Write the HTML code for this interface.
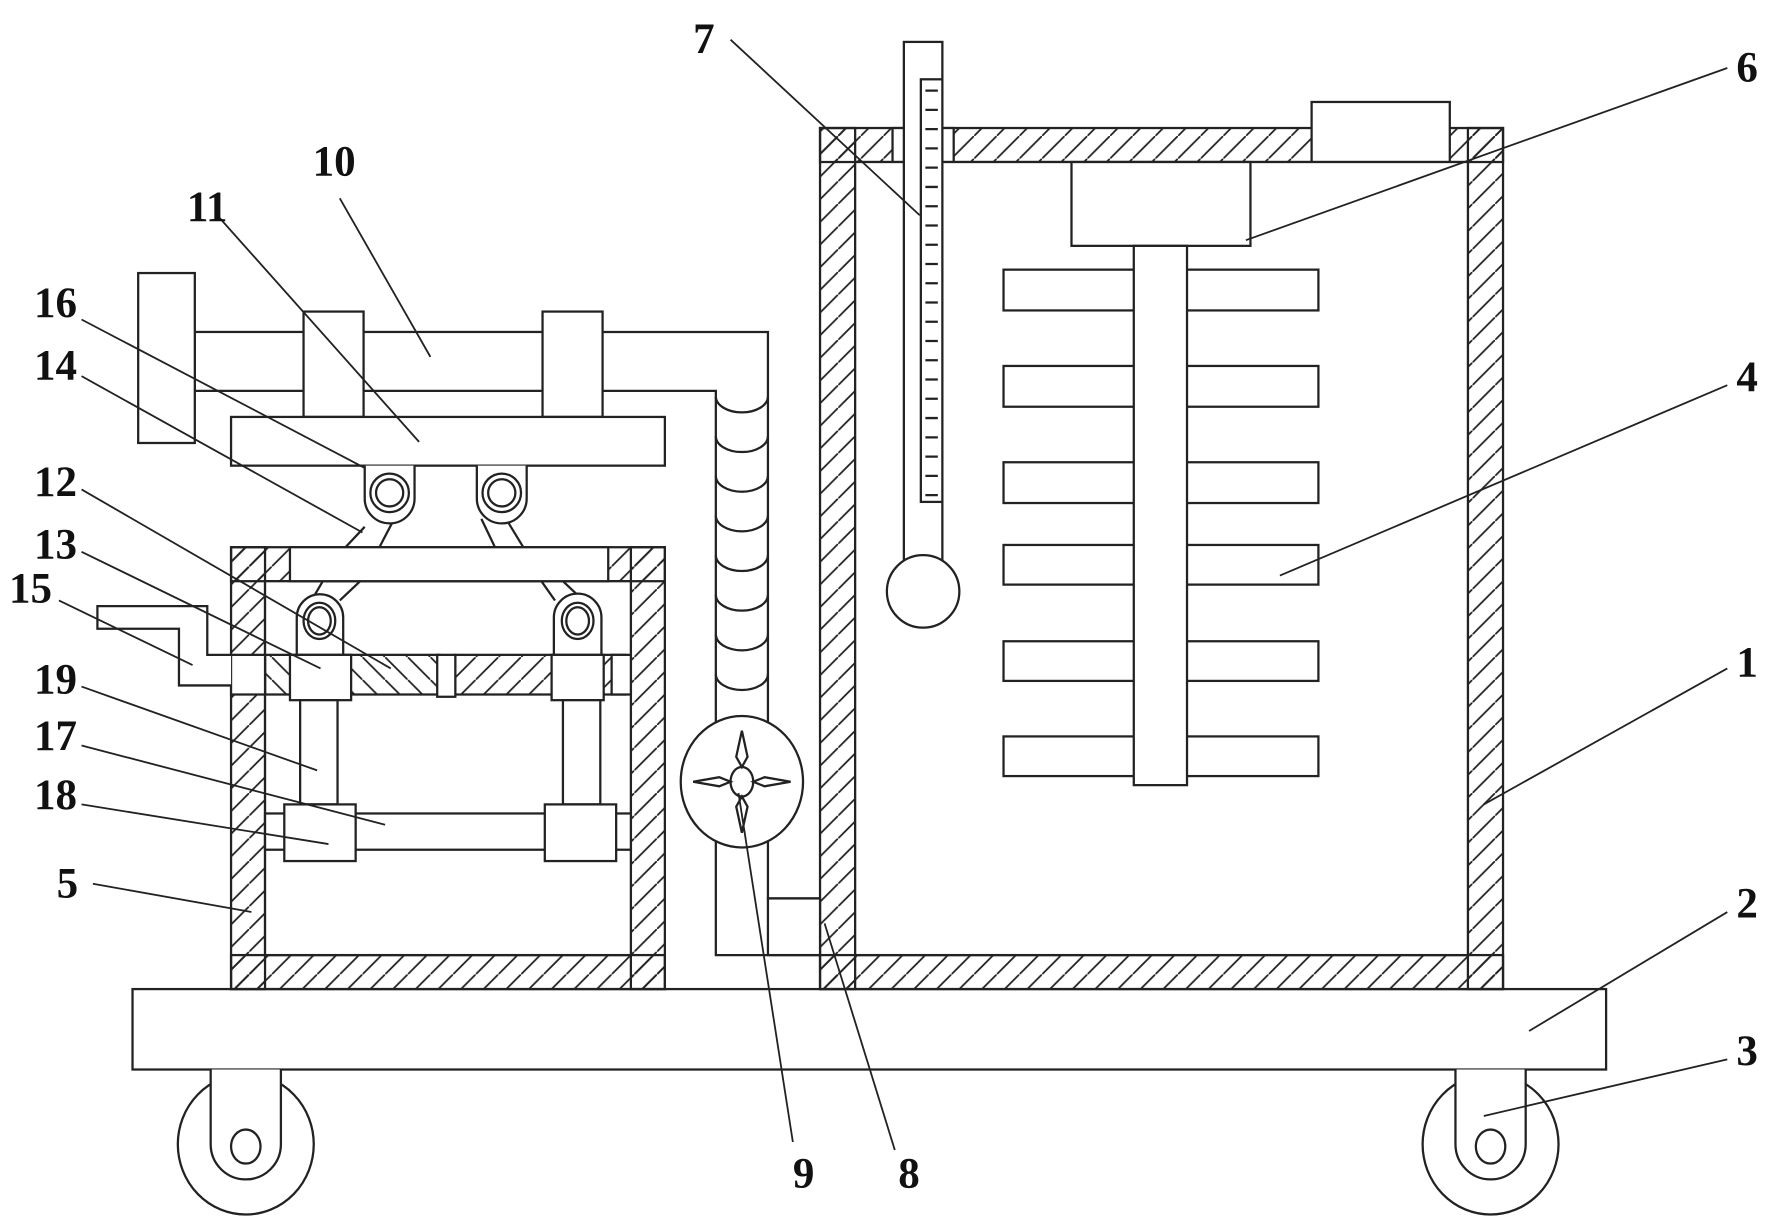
<!DOCTYPE html>
<html><head><meta charset="utf-8"><style>
html,body{margin:0;padding:0;background:#fff;}
svg{display:block;}
text{font-family:"Liberation Serif",serif;font-weight:bold;font-size:38px;fill:#111;}
</style></head><body>
<svg width="1776" height="1227" viewBox="0 0 1568 1083" preserveAspectRatio="none" xmlns="http://www.w3.org/2000/svg">
<defs>
<pattern id="h" patternUnits="userSpaceOnUse" width="20" height="20"><path d="M-5 25 L25 -5" stroke="#222" stroke-width="1.6"/></pattern>
<pattern id="h2" patternUnits="userSpaceOnUse" width="20" height="20"><path d="M-5 -5 L25 25" stroke="#222" stroke-width="1.6"/></pattern>
</defs>
<g fill="none" stroke="#222" stroke-width="2">
<!-- base -->
<rect x="117" y="873" width="1301" height="71" fill="#fff"/>
<!-- wheels -->
<ellipse cx="217" cy="1010" rx="60" ry="62"/>
<path d="M186 944 V1010 A31 31 0 0 0 248 1010 V944" fill="#fff"/>
<ellipse cx="217" cy="1012" rx="13" ry="15"/>
<ellipse cx="1316" cy="1010" rx="60" ry="62"/>
<path d="M1285 944 V1010 A31 31 0 0 0 1347 1010 V944" fill="#fff"/>
<ellipse cx="1316" cy="1012" rx="13" ry="15"/>
<!-- tank walls -->
<rect x="724" y="113" width="31" height="760" fill="url(#h)"/>
<rect x="1296" y="113" width="31" height="760" fill="url(#h)"/>
<rect x="724" y="843" width="603" height="30" fill="url(#h)"/>
<rect x="724" y="113" width="603" height="30" fill="url(#h)"/>
<rect x="788" y="113" width="54" height="30" fill="#fff"/>
<rect x="1158" y="90" width="122" height="53" fill="#fff"/>
<rect x="755" y="143" width="541" height="700" fill="#fff"/>
<!-- motor & shaft -->
<rect x="946" y="143" width="158" height="74" fill="#fff"/>
<rect x="886" y="238" width="278" height="36" fill="#fff"/>
<rect x="886" y="323" width="278" height="36" fill="#fff"/>
<rect x="886" y="408" width="278" height="36" fill="#fff"/>
<rect x="886" y="481" width="278" height="35" fill="#fff"/>
<rect x="886" y="566" width="278" height="35" fill="#fff"/>
<rect x="886" y="650" width="278" height="35" fill="#fff"/>
<rect x="1001" y="217" width="47" height="476" fill="#fff"/>
<!-- thermometer -->
<rect x="798" y="37" width="34" height="460" fill="#fff"/>
<rect x="813" y="70" width="19" height="373" fill="#fff"/>
<path d="M817 80 H828 M817 97 H828 M817 114 H828 M817 131 H828 M817 148 H828 M817 165 H828 M817 182 H828 M817 199 H828 M817 216 H828 M817 233 H828 M817 250 H828 M817 267 H828 M817 284 H828 M817 301 H828 M817 318 H828 M817 335 H828 M817 352 H828 M817 369 H828 M817 386 H828 M817 403 H828 M817 420 H828 M817 437 H828"/>
<circle cx="815" cy="522" r="32" fill="#fff"/>
<!-- pipe -->
<path d="M530 293 H678 V793 H724"/>
<path d="M530 345 H632 V843 H724"/>
<rect x="678" y="793" width="46" height="50" fill="#fff"/>
<path d="M632 350 A23 14 0 0 0 678 350 M632 385 A23 14 0 0 0 678 385 M632 420 A23 14 0 0 0 678 420 M632 455 A23 14 0 0 0 678 455 M632 490 A23 14 0 0 0 678 490 M632 525 A23 14 0 0 0 678 525 M632 560 A23 14 0 0 0 678 560 M632 595 A23 14 0 0 0 678 595"/>
<ellipse cx="655" cy="690" rx="54" ry="58" fill="#fff"/>
<ellipse cx="655" cy="690" rx="10" ry="13"/>
<path d="M655 645 L660 668 L655 677 L650 668Z M655 735 L660 712 L655 703 L650 712Z M612 690 L635 694 L645 690 L635 686Z M698 690 L675 694 L665 690 L675 686Z" fill="#fff"/>
<!-- rod 10 -->
<rect x="172" y="293" width="358" height="52" fill="#fff"/>
<rect x="122" y="241" width="50" height="150" fill="#fff"/>
<rect x="268" y="275" width="53" height="93" fill="#fff"/>
<rect x="479" y="275" width="53" height="93" fill="#fff"/>
<rect x="204" y="368" width="383" height="43" fill="#fff"/>
<!-- upper links -->
<path d="M322 465 L305 483 M347 460 L335 483 M425 458 L437 483 M448 460 L462 483"/>
<path d="M322 411 V440 A22 22 0 0 0 366 440 V411" fill="#fff"/>
<circle cx="344" cy="435" r="17"/><circle cx="344" cy="435" r="12"/>
<path d="M421 411 V440 A22 22 0 0 0 465 440 V411" fill="#fff"/>
<circle cx="443" cy="435" r="17"/><circle cx="443" cy="435" r="12"/>
<!-- box 5 -->
<rect x="204" y="483" width="30" height="390" fill="url(#h)"/>
<rect x="557" y="483" width="30" height="390" fill="url(#h)"/>
<rect x="204" y="843" width="383" height="30" fill="url(#h)"/>
<rect x="204" y="483" width="383" height="30" fill="url(#h)"/>
<rect x="234" y="513" width="323" height="330" fill="#fff"/>
<rect x="256" y="483" width="281" height="30" fill="#fff"/>
<!-- lower links -->
<path d="M275 530 L285 513 M300 530 L318 513 M490 530 L478 513 M515 530 L497 513"/>
<path d="M262 578 V545 A20 20 0 0 1 303 545 V578" fill="#fff"/>
<ellipse cx="282" cy="548" rx="14" ry="16"/><ellipse cx="282" cy="548" rx="10" ry="12"/>
<path d="M489 578 V545 A20 20 0 0 1 531 545 V578" fill="#fff"/>
<ellipse cx="510" cy="548" rx="14" ry="16"/><ellipse cx="510" cy="548" rx="10" ry="12"/>
<!-- plate 12 -->
<rect x="234" y="578" width="154" height="35" fill="url(#h2)"/>
<rect x="402" y="578" width="150" height="35" fill="url(#h)"/>
<rect x="386" y="578" width="16" height="37" fill="#fff"/>
<rect x="204" y="578" width="30" height="35" fill="#fff"/>
<rect x="540" y="578" width="17" height="35" fill="#fff"/>
<rect x="256" y="578" width="54" height="40" fill="#fff"/>
<rect x="487" y="578" width="46" height="40" fill="#fff"/>
<!-- handle 15 -->
<path d="M204 578 H183 V535 H86 V555 H158 V605 H204" fill="#fff"/>
<!-- rods 19, bar 17, blocks 18 -->
<rect x="265" y="618" width="33" height="92" fill="#fff"/>
<rect x="497" y="618" width="33" height="92" fill="#fff"/>
<rect x="234" y="718" width="323" height="32" fill="#fff"/>
<rect x="251" y="710" width="63" height="50" fill="#fff"/>
<rect x="481" y="710" width="63" height="50" fill="#fff"/>
<!-- leaders -->
<g stroke-width="1.6">
<path d="M645 35 L812 190"/>
<path d="M1525 60 L1100 212"/>
<path d="M300 175 L380 315"/>
<path d="M190 188 L370 390"/>
<path d="M72 282 L322 413"/>
<path d="M72 332 L320 470"/>
<path d="M72 432 L345 590"/>
<path d="M72 487 L283 590"/>
<path d="M52 530 L170 587"/>
<path d="M72 606 L280 680"/>
<path d="M72 658 L340 728"/>
<path d="M72 710 L290 745"/>
<path d="M82 780 L222 805"/>
<path d="M1525 340 L1130 508"/>
<path d="M1525 590 L1310 710"/>
<path d="M1525 805 L1350 910"/>
<path d="M1525 935 L1310 985"/>
<path d="M700 1008 L652 700"/>
<path d="M790 1015 L728 815"/>
</g>
</g>
<text x="612" y="47">7</text>
<text x="1533" y="72">6</text>
<text x="276" y="155">10</text>
<text x="165" y="195">11</text>
<text x="30" y="280">16</text>
<text x="30" y="335">14</text>
<text x="30" y="438">12</text>
<text x="30" y="493">13</text>
<text x="8" y="532">15</text>
<text x="30" y="612">19</text>
<text x="30" y="662">17</text>
<text x="30" y="714">18</text>
<text x="50" y="792">5</text>
<text x="1533" y="345">4</text>
<text x="1533" y="597">1</text>
<text x="1533" y="810">2</text>
<text x="1533" y="940">3</text>
<text x="700" y="1048">9</text>
<text x="793" y="1048">8</text>
</svg>
</body></html>
